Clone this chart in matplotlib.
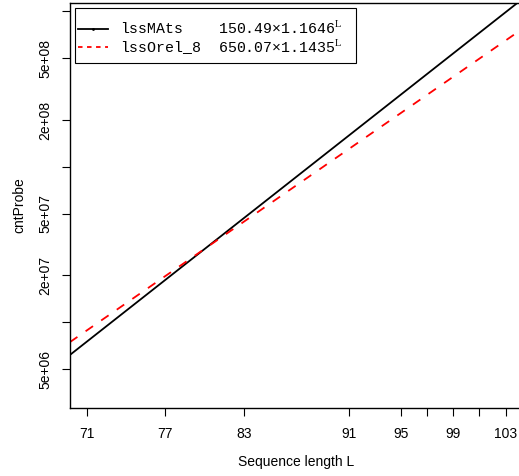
import numpy as np
import matplotlib.pyplot as plt
from matplotlib.lines import Line2D
from matplotlib.patches import Rectangle

# fitted curves, values at the plot edges
seq_len = [69.7, 104.0]
lssMAts = [6.17e6, 1.147e9]
lssOrel_8 = [7.46e6, 7.41e8]

labels = ["lssMAts    150.49\u00d71.1646$^{\\mathrm{L}}$",
          "lssOrel_8  650.07\u00d71.1435$^{\\mathrm{L}}$"]

xticks = [71, 77, 83, 91, 95, 97, 99, 101, 103]
xticklabels = ["71", "77", "83", "91", "95", "", "99", "", "103"]
yticks = [5e6, 1e7, 2e7, 5e7, 1e8, 2e8, 5e8, 1e9]
yticklabels = ["5e+06", "", "2e+07", "5e+07", "", "2e+08", "5e+08", ""]

plt.rcParams['font.family'] = ['Liberation Sans', 'DejaVu Sans']
plt.rcParams['mathtext.fontset'] = 'custom'
plt.rcParams['mathtext.rm'] = 'Liberation Serif'

W, H = 519, 476
fig = plt.figure(figsize=(W/100, H/100), dpi=100)
# plot region runs a bit past the right edge, so no right spine shows
ax = fig.add_axes([70/W, 1 - 408/H, (522 - 70)/W, (408 - 3)/H])

ax.plot(seq_len, lssMAts, color='black', lw=1.3)
ax.plot(seq_len, lssOrel_8, color='red', lw=1.3, ls=(0, (5, 5.5)))
ax.set_yscale('log')
ax.set_xlim(69.7, 104.26)
ax.set_ylim(2.81e6, 1.13e9)

ax.set_xticks(xticks)
ax.set_xticklabels(xticklabels)
ax.set_yticks(yticks)
ax.set_yticklabels(yticklabels, rotation=90, va='center')
ax.minorticks_off()
ax.tick_params(direction='out', length=5.5, width=0.8, labelsize=10)
ax.tick_params(axis='x', pad=8)
ax.tick_params(axis='y', pad=7)
for s in ax.spines.values():
    s.set_linewidth(1)

ax.set_xlabel("Sequence length L", fontsize=10, labelpad=10)
ax.set_ylabel("cntProbe", fontsize=10, labelpad=9)

# legend box drawn by hand (R style: tight sides, tall top/bottom padding)
ax.add_patch(Rectangle(((75 - 70)/452, 1 - (63 - 3)/405), (356 - 75)/452, (63 - 8)/405,
                       transform=ax.transAxes, fill=True, facecolor='white',
                       edgecolor='black', lw=0.8, zorder=4))
handles = [Line2D([], [], color='black', lw=1.3, marker='.', markersize=2),
           Line2D([], [], color='red', lw=1.3, ls=(0, (2.5, 2.5)))]
leg = ax.legend(handles, labels, loc='upper left', frameon=False,
                bbox_to_anchor=(75/W, 1 - 17/H), bbox_transform=fig.transFigure,
                prop={'family': 'Liberation Mono', 'size': 10.7},
                handlelength=2.0, handletextpad=0.85, borderaxespad=0,
                labelspacing=0.0, borderpad=0.2)
leg.set_zorder(5)

fig.savefig("out.png", dpi=100)
